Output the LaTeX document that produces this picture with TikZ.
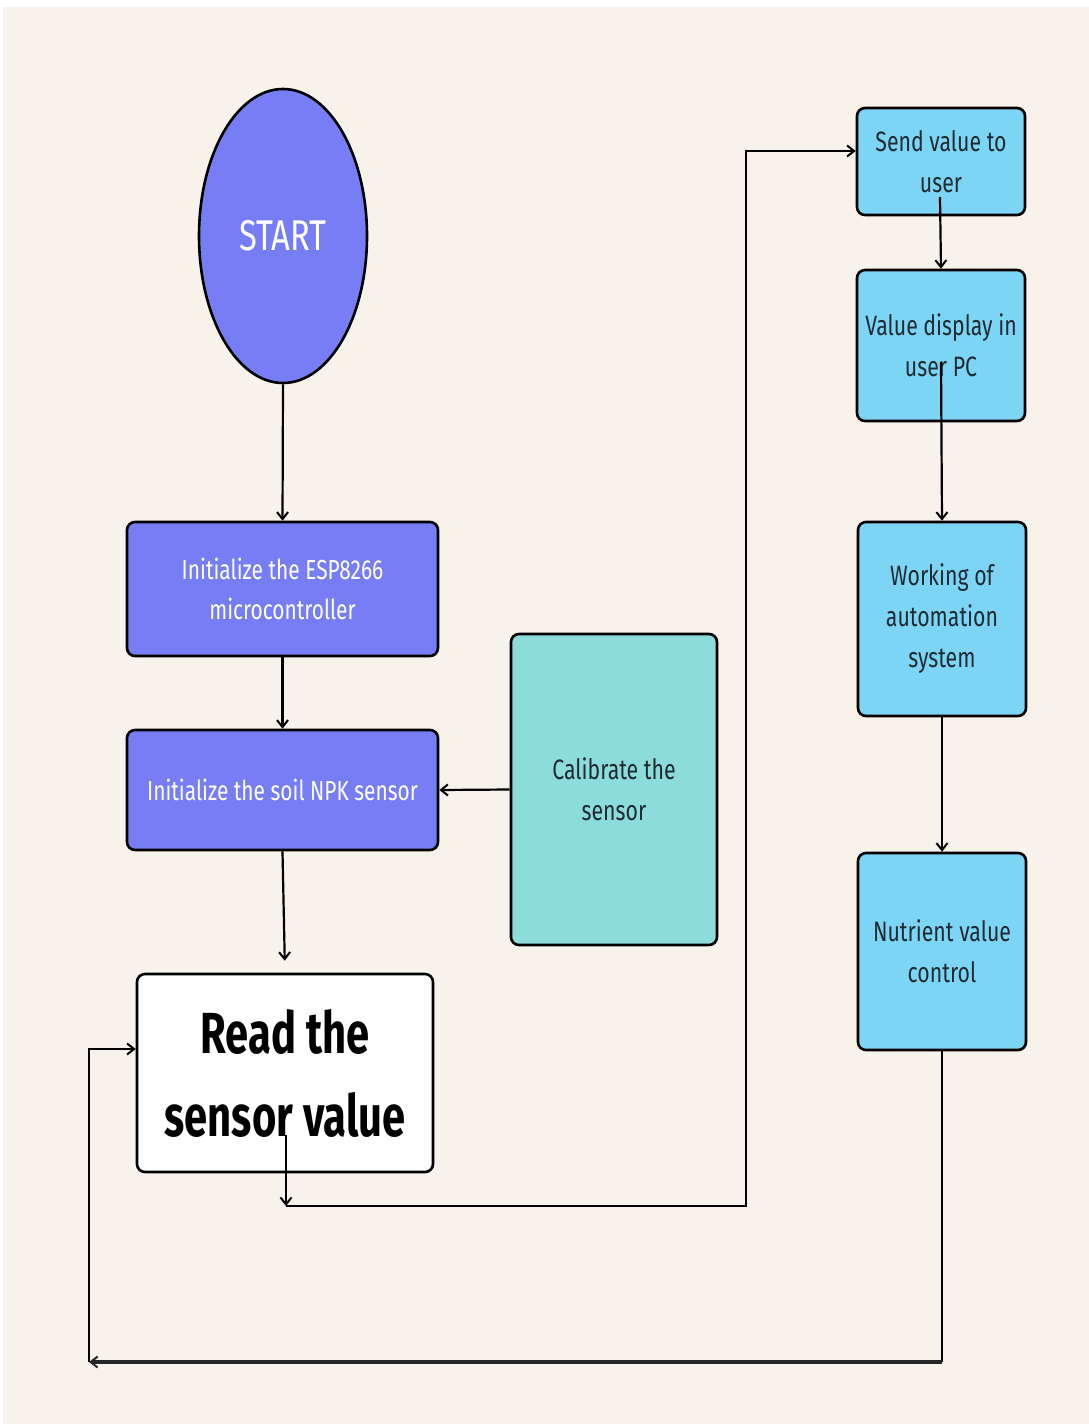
\documentclass[tikz,border=0pt]{standalone}
\usepackage{fontspec}
\setmainfont{Fira Sans}[FakeStretch=0.76,BoldFeatures={FakeStretch=0.72}]
\usetikzlibrary{arrows.meta,calc,shapes.geometric}
\definecolor{bgc}{HTML}{F7F2EA}
\definecolor{purp}{HTML}{777EF5}
\definecolor{tealc}{HTML}{8CDCDC}
\definecolor{skyb}{HTML}{7DD5F5}
\definecolor{txtd}{HTML}{1E2B33}
\begin{document}
\begin{tikzpicture}[x=1pt,y=-1pt,
  box/.style={draw=black,line width=2.6pt,rounded corners=8pt,align=center,inner sep=0pt},
  pbox/.style={box,fill=purp,text=white,font=\fontsize{27.5}{40}\selectfont},
  bbox/.style={box,fill=skyb,text=txtd,font=\fontsize{28}{41}\selectfont},
  arr/.style={line width=2.2pt,-{Straight Barb[length=7pt,width=11pt,line width=2pt]}},
  ln/.style={line width=2.2pt}]
\useasboundingbox (0,0) rectangle (1089,1424);
\fill[white] (0,0) rectangle (1089,1424);
\fill[bgc] (3,7) rectangle (1089,1424);

\node[draw=black,line width=2.6pt,fill=purp,ellipse,minimum width=168pt,minimum height=294pt,inner sep=0pt,text=white,font=\fontsize{43}{43}\selectfont] (start) at (283,236) {START};

\node[pbox,minimum width=311pt,minimum height=134pt] (esp) at (282.5,589) {Initialize the ESP8266\\microcontroller};
\node[pbox,minimum width=311pt,minimum height=120pt] (npk) at (282.5,790) {Initialize the soil NPK sensor};
\node[box,fill=tealc,text=txtd,font=\fontsize{28}{41}\selectfont,minimum width=206pt,minimum height=311pt] (cal) at (614,789.5) {Calibrate the\\sensor};
\node[box,fill=white,text=black,font=\fontsize{58}{83}\selectfont\bfseries,minimum width=296pt,minimum height=198pt] (read) at (285,1073) {Read the\\sensor value};

\node[bbox,minimum width=168pt,minimum height=107pt] (send) at (941,161.5) {Send value to\\user};
\node[bbox,minimum width=168pt,minimum height=151pt] (value) at (941,345.5) {Value display in\\user PC};
\node[bbox,minimum width=168pt,minimum height=194pt] (work) at (942,619) {Working of\\automation\\system};
\node[bbox,minimum width=168pt,minimum height=197pt] (nutr) at (942,951.5) {Nutrient value\\control};

\coordinate (r1) at (286,1135);
\coordinate (r2) at (286,1206);
\coordinate (b1) at (746,1206);
\coordinate (b2) at (746,151);
\coordinate (s1) at (940,197);
\coordinate (v1) at (941,362);
\coordinate (n1) at (942,1362);
\coordinate (l1) at (89,1362);
\coordinate (l2) at (89,1049);

\draw[arr] (start.south) -- (esp.north);
\draw[arr] (esp.south) -- (npk.north);
\draw[arr] (cal.west) -- (npk.east);
\draw[arr,shorten >=12pt] (npk.south) -- (read.north);
\draw[arr] (r1) -- (r2);
\draw[arr] (r2) -- (b1) -- (b2) -- (send.west |- b2);
\draw[arr] (s1) -- (value.north);
\draw[arr] (v1) -- (work.north);
\draw[arr] (work.south) -- (nutr.north);
\draw[ln] (nutr.south) -- (n1);
\draw[arr,line width=3.2pt,draw=black!85] (n1) -- (l1);
\draw[arr] (l1) -- (l2) -- (read.west |- l2);
\end{tikzpicture}
\end{document}
